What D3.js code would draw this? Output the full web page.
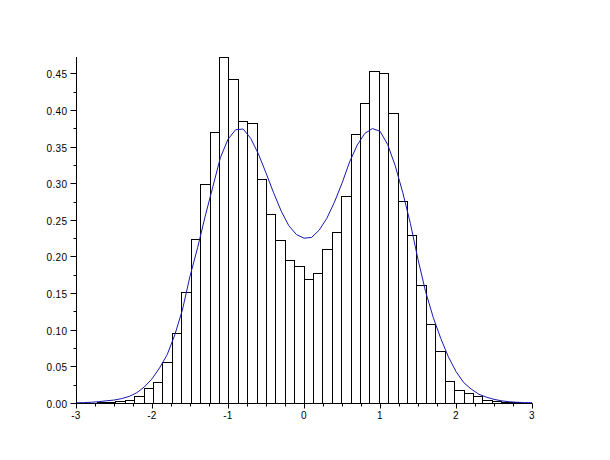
<!DOCTYPE html>
<html>
<head>
<meta charset="utf-8">
<script src="https://cdn.jsdelivr.net/npm/d3@7/dist/d3.min.js"></script>
<style>
  html, body { margin: 0; padding: 0; background: #ffffff; }
  svg { display: block; }
  text { font-family: "Liberation Sans", Arial, sans-serif; font-size: 10px; fill: #000; letter-spacing: 0.4px; }
</style>
</head>
<body>
<svg id="chart" width="610" height="460"></svg>
<script>
// ---- data ----
const binEdges = [-2.729, -2.605, -2.481, -2.358, -2.234, -2.110, -1.986, -1.862, -1.739, -1.615,
  -1.491, -1.367, -1.243, -1.120, -0.996, -0.872, -0.748, -0.625, -0.501, -0.377,
  -0.253, -0.129, -0.006, 0.118, 0.242, 0.366, 0.490, 0.613, 0.737, 0.861,
  0.985, 1.108, 1.232, 1.356, 1.480, 1.604, 1.727, 1.851, 1.975, 2.099,
  2.222, 2.346, 2.470, 2.594, 2.718, 2.841];
const binHeights = [0.001, 0.0014, 0.0027, 0.0045, 0.0095, 0.0205, 0.028, 0.0555, 0.095, 0.151,
  0.2236, 0.2986, 0.3696, 0.4723, 0.4428, 0.3846, 0.3818, 0.3055, 0.2575, 0.222,
  0.195, 0.1864, 0.169, 0.1768, 0.21, 0.233, 0.282, 0.3678, 0.41, 0.4527,
  0.451, 0.3964, 0.2755, 0.229, 0.161, 0.1077, 0.0709, 0.030, 0.0177, 0.0132,
  0.0091, 0.0041, 0.0023, 0.0014, 0.001];
const curveX = [-3.0, -2.9, -2.8, -2.7, -2.6, -2.5, -2.4, -2.3, -2.2, -2.1,
  -2.0, -1.9, -1.8, -1.7, -1.6, -1.5, -1.4, -1.3, -1.2, -1.1,
  -1.0, -0.9, -0.8, -0.7, -0.6, -0.5, -0.4, -0.3, -0.2, -0.1,
  0.0, 0.1, 0.2, 0.3, 0.4, 0.5, 0.6, 0.7, 0.8, 0.9,
  1.0, 1.1, 1.2, 1.3, 1.4, 1.5, 1.6, 1.7, 1.8, 1.9,
  2.0, 2.1, 2.2, 2.3, 2.4, 2.5, 2.6, 2.7, 2.8, 2.9, 3.0];
const curveY = [0.0003, 0.0005, 0.001, 0.0018, 0.003, 0.004, 0.006, 0.009, 0.014, 0.022,
  0.033, 0.048, 0.066, 0.093, 0.127, 0.173, 0.212, 0.255, 0.295, 0.335,
  0.360, 0.373, 0.374, 0.361, 0.340, 0.314, 0.287, 0.262, 0.242, 0.230,
  0.225, 0.226, 0.236, 0.252, 0.274, 0.300, 0.329, 0.352, 0.368, 0.3746,
  0.371, 0.353, 0.324, 0.287, 0.245, 0.196, 0.152, 0.117, 0.088, 0.063,
  0.043, 0.028, 0.019, 0.012, 0.008, 0.005, 0.003, 0.0017, 0.001, 0.0006, 0.0004];
const xMajorTicks = [-3, -2, -1, 0, 1, 2, 3];
const xTickLabels = ["-3", "-2", "-1", "0", "1", "2", "3"];
const yMajorTicks = [0, 0.05, 0.10, 0.15, 0.20, 0.25, 0.30, 0.35, 0.40, 0.45];
const yTickLabels = ["0.00", "0.05", "0.10", "0.15", "0.20", "0.25", "0.30", "0.35", "0.40", "0.45"];

// ---- drawing ----
const svg = d3.select("#chart");
const x = d3.scaleLinear().domain([-3, 3]).range([76, 532]);
const y = d3.scaleLinear().domain([0, d3.max(binHeights)]).range([403, 57]);

const bins = binHeights.map((h, i) => ({ x0: binEdges[i], x1: binEdges[i + 1], h }));

svg.append("g")
  .selectAll("rect")
  .data(bins)
  .join("rect")
  .attr("x", d => Math.round(x(d.x0)) + 0.5)
  .attr("y", d => Math.round(y(d.h)) + 0.5)
  .attr("width", d => Math.round(x(d.x1)) - Math.round(x(d.x0)))
  .attr("height", d => Math.round(y(0)) - Math.round(y(d.h)))
  .attr("fill", "#ffffff")
  .attr("stroke", "#000000")
  .attr("stroke-width", 1);

const line = d3.line()
  .x(d => x(d[0]))
  .y(d => y(d[1]))
  .curve(d3.curveLinear);

svg.append("path")
  .datum(curveX.map((v, i) => [v, curveY[i]]))
  .attr("d", line)
  .attr("fill", "none")
  .attr("stroke", "#1818b0")
  .attr("stroke-width", 1);

// x axis
const xMinor = d3.range(-3, 3.001, 0.25);
const gx = svg.append("g").attr("transform", "translate(0,403.5)");
gx.append("line").attr("x1", x(-3)).attr("x2", x(3)).attr("stroke", "#000");
gx.selectAll("line.minor").data(xMinor).join("line").attr("class", "minor")
  .attr("x1", d => Math.round(x(d)) + 0.5).attr("x2", d => Math.round(x(d)) + 0.5)
  .attr("y1", 0).attr("y2", 3).attr("stroke", "#000");
gx.selectAll("line.major").data(xMajorTicks).join("line").attr("class", "major")
  .attr("x1", d => Math.round(x(d)) + 0.5).attr("x2", d => Math.round(x(d)) + 0.5)
  .attr("y1", 0).attr("y2", 5).attr("stroke", "#000");
gx.selectAll("text").data(xMajorTicks).join("text")
  .attr("x", d => x(d))
  .attr("y", 15)
  .attr("text-anchor", "middle")
  .text((d, i) => xTickLabels[i]);

// y axis
const yMinor = d3.range(0, 0.4601, 0.025);
const gy = svg.append("g").attr("transform", "translate(76.5,0)");
gy.append("line").attr("y1", y(0)).attr("y2", y(d3.max(binHeights))).attr("stroke", "#000");
gy.selectAll("line.minor").data(yMinor).join("line").attr("class", "minor")
  .attr("y1", d => Math.round(y(d)) + 0.5).attr("y2", d => Math.round(y(d)) + 0.5)
  .attr("x1", 0).attr("x2", -3).attr("stroke", "#000");
gy.selectAll("line.major").data(yMajorTicks).join("line").attr("class", "major")
  .attr("y1", d => Math.round(y(d)) + 0.5).attr("y2", d => Math.round(y(d)) + 0.5)
  .attr("x1", 0).attr("x2", -6).attr("stroke", "#000");
gy.selectAll("text").data(yMajorTicks).join("text")
  .attr("x", -9)
  .attr("y", d => y(d) + 5)
  .attr("text-anchor", "end")
  .text((d, i) => yTickLabels[i]);
</script>
</body>
</html>
